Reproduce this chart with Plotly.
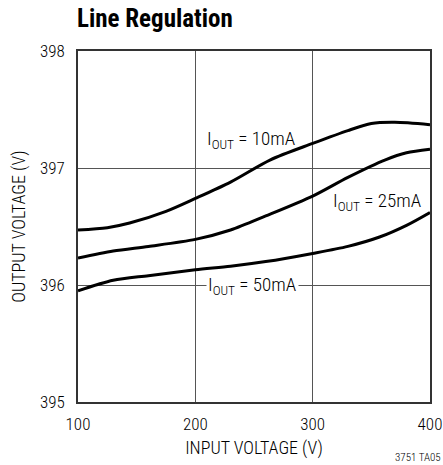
import plotly.graph_objects as go

vin_10 = [100, 125, 144, 175, 200, 230, 264, 300, 330, 350, 370, 400]
vout_10 = [396.47, 396.49, 396.53, 396.63, 396.74, 396.88, 397.07, 397.21, 397.32, 397.38, 397.39, 397.37]

vin_25 = [100, 130, 160, 200, 230, 260, 300, 330, 362, 380, 400]
vout_25 = [396.23, 396.29, 396.33, 396.39, 396.47, 396.59, 396.76, 396.92, 397.07, 397.13, 397.16]

vin_50 = [100, 130, 160, 200, 230, 260, 300, 330, 357, 380, 400]
vout_50 = [395.95, 396.04, 396.08, 396.13, 396.16, 396.20, 396.27, 396.33, 396.41, 396.51, 396.62]

x_ticks = [100, 200, 300, 400]
y_ticks = [395, 396, 397, 398]

FONT = "Roboto Condensed, Liberation Sans Narrow, Arial Narrow, sans-serif"
W = 300

fig = go.Figure()
for xs, ys in [(vin_10, vout_10), (vin_25, vout_25), (vin_50, vout_50)]:
    fig.add_trace(go.Scatter(x=xs, y=ys, mode="lines",
                             line=dict(color="black", width=3, shape="spline", smoothing=0.8),
                             showlegend=False, hoverinfo="skip", cliponaxis=False))

fig.update_layout(
    width=443, height=465,
    margin=dict(l=78, r=13, t=51, b=63, autoexpand=False),
    paper_bgcolor="white", plot_bgcolor="white",
    font=dict(family=FONT, size=16, color="black", weight=W),
    title=dict(text="Line Regulation", x=77 / 443, xref="container", xanchor="left",
               y=1 - 18 / 465, yref="container", yanchor="middle",
               font=dict(family=FONT, size=25, color="black", weight=700)),
)
fig.update_xaxes(range=[100, 400], tickvals=x_ticks, ticktext=[str(v) for v in x_ticks],
                 showgrid=True, gridcolor="#555555", gridwidth=1,
                 showline=True, linecolor="#333333", linewidth=1.5, mirror=True,
                 ticks="", zeroline=False, automargin=False,
                 tickfont=dict(size=17, weight=W), ticklabelstandoff=6,
                 title=dict(text="INPUT VOLTAGE (V)", font=dict(size=18, weight=W), standoff=8))
fig.update_yaxes(range=[395, 398], tickvals=y_ticks, ticktext=[str(v) for v in y_ticks],
                 showgrid=True, gridcolor="#555555", gridwidth=1,
                 showline=True, linecolor="#333333", linewidth=1.5, mirror=True,
                 ticks="", zeroline=False, automargin=False,
                 tickfont=dict(size=17, weight=W), ticklabelstandoff=8,
                 title=dict(text="OUTPUT VOLTAGE (V)", font=dict(size=18, weight=W), standoff=10))

fig.add_annotation(x=248, y=397.24, xref="x", yref="y",
                   text="I<sub>OUT</sub> = 10mA", showarrow=False,
                   font=dict(size=19, weight=W))
fig.add_annotation(x=355, y=396.71, xref="x", yref="y",
                   text="I<sub>OUT</sub> = 25mA", showarrow=False,
                   font=dict(size=19, weight=W))
fig.add_annotation(x=249, y=396.0, xref="x", yref="y",
                   text="I<sub>OUT</sub> = 50mA", showarrow=False,
                   font=dict(size=19, weight=W), bgcolor="white", borderpad=1)
fig.add_annotation(x=1.0, y=0.0, xref="paper", yref="paper",
                   text="3751 TA05", showarrow=False, xanchor="right", yanchor="middle",
                   font=dict(size=11, weight=W), xshift=13, yshift=-55)

fig.write_html("out.html", config={"displayModeBar": False},
               post_script="document.body.style.margin='0px';")
